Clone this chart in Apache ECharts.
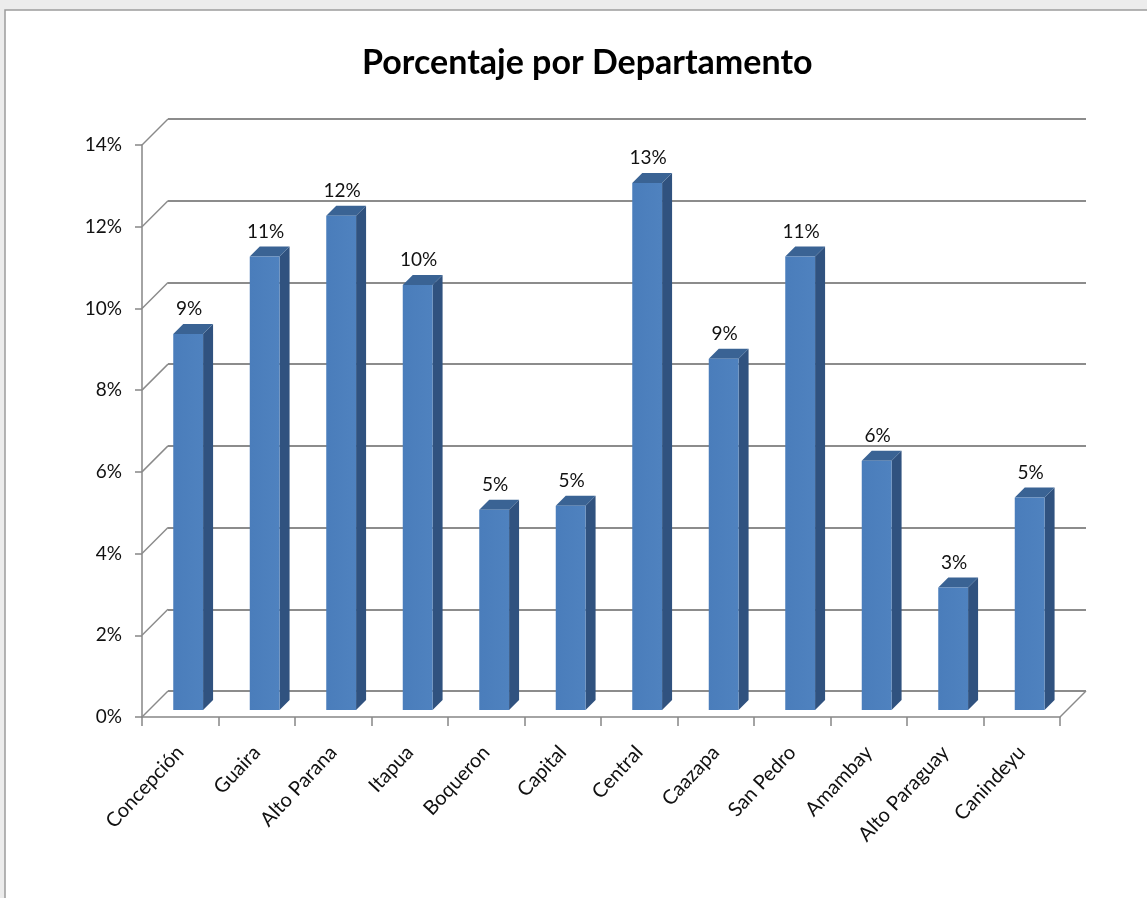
<!DOCTYPE html>
<html>
<head>
<meta charset="utf-8">
<script src="https://cdn.jsdelivr.net/npm/echarts@6/dist/echarts.min.js"></script>
<style>
  html, body { margin: 0; padding: 0; background: #ececec; }
  #myChart { width: 1147px; height: 898px; }
</style>
</head>
<body>
<div id="myChart"></div>
<script>
// datos
var categorias = ['Concepción', 'Guaira', 'Alto Parana', 'Itapua', 'Boqueron', 'Capital',
  'Central', 'Caazapa', 'San Pedro', 'Amambay', 'Alto Paraguay', 'Canindeyu']
var porcentajes = [9.2, 11.1, 12.1, 10.4, 4.9, 5.0, 12.9, 8.6, 11.1, 6.1, 3.0, 5.2]
var yTicks = [0, 2, 4, 6, 8, 10, 12, 14]

var fuente = 'Lato, "Open Sans", sans-serif'
var DX = 26   // profundidad de la pared
var DY = 26

// barra 3D: cara frontal, lateral y superior
var renderBarra = function(params, api) {
  var idx = api.value(0)
  var v = api.value(1)
  var top = api.coord([idx, v])
  var base = api.coord([idx, 0])
  var band = api.size([1, 0])[0]
  var w = band * 0.39
  var off = 7
  var d = 10
  var x0 = top[0] - off
  var x1 = x0 + w
  var yb = base[1] - off
  var yt = top[1] - off
  return {
    type: 'group',
    children: [
      {
        type: 'polygon',
        shape: { points: [[x1, yb], [x1 + d, yb - d], [x1 + d, yt - d], [x1, yt]] },
        style: { fill: '#30527f' }
      },
      {
        type: 'polygon',
        shape: { points: [[x0, yt], [x0 + d, yt - d], [x1 + d, yt - d], [x1, yt]] },
        style: { fill: '#3a6394' }
      },
      {
        type: 'rect',
        shape: { x: x0, y: yt, width: w, height: yb - yt },
        style: {
          fill: new echarts.graphic.LinearGradient(0, 0, 1, 0, [
            { offset: 0, color: '#4a7dbb' },
            { offset: 1, color: '#4f82bf' }
          ])
        }
      },
      {
        type: 'text',
        style: {
          text: Math.round(v) + '%',
          x: x0 + w / 2 + 1,
          y: yt - 25,
          align: 'center',
          verticalAlign: 'middle',
          fill: '#111',
          font: '19px ' + fuente
        }
      }
    ]
  }
}

// diagonales de la pared lateral y del piso
var renderMarco = function(params, api) {
  var cs = params.coordSys
  var y = api.coord([0, api.value(0)])[1]
  var children = [{
    type: 'line',
    shape: { x1: cs.x, y1: y, x2: cs.x + DX, y2: y - DY },
    style: { stroke: '#8a8a8a', lineWidth: 1.5 }
  }]
  if (params.dataIndex === 0) {
    var xr = cs.x + cs.width
    children.push({
      type: 'line',
      shape: { x1: xr, y1: y, x2: xr + DX, y2: y - DY },
      style: { stroke: '#8a8a8a', lineWidth: 1.5 }
    })
  }
  return { type: 'group', children: children }
}

var option = {
  animation: false,
  title: {
    text: 'Porcentaje por Departamento',
    left: 357,
    top: 41,
    textStyle: { fontFamily: fuente, fontSize: 34, fontWeight: 'bold', color: '#000' }
  },
  graphic: [{
    type: 'rect',
    z: -10,
    shape: { x: 5, y: 10, width: 1200, height: 950 },
    style: { fill: '#fff', stroke: '#9c9c9c', lineWidth: 1.5 }
  }],
  grid: [
    { left: 142, top: 145, width: 918, height: 572 },
    { left: 142 + DX, top: 145 - DY, width: 918, height: 572 }
  ],
  xAxis: [
    {
      type: 'category',
      gridIndex: 0,
      data: categorias,
      axisLine: { lineStyle: { color: '#868686', width: 1.5 } },
      axisTick: { show: true, length: 9, lineStyle: { color: '#868686', width: 1.5 } },
      axisLabel: { rotate: 47, margin: 32, interval: 0, fontFamily: fuente, fontSize: 20, color: '#111' }
    },
    {
      type: 'category',
      gridIndex: 1,
      data: categorias,
      show: false
    }
  ],
  yAxis: [
    {
      type: 'value',
      gridIndex: 0,
      min: 0,
      max: 14,
      interval: 2,
      axisLine: { show: true, lineStyle: { color: '#868686', width: 1.5 } },
      axisTick: { show: true, length: 7, lineStyle: { color: '#868686', width: 1.5 } },
      axisLabel: { formatter: '{value}%', margin: 20, fontFamily: fuente, fontSize: 19, color: '#111' },
      splitLine: { show: false }
    },
    {
      type: 'value',
      gridIndex: 1,
      min: 0,
      max: 14,
      interval: 2,
      axisLine: { show: false },
      axisTick: { show: false },
      axisLabel: { show: false },
      splitLine: { show: true, lineStyle: { color: '#8c8c8c', width: 2 } }
    }
  ],
  series: [
    {
      type: 'custom',
      xAxisIndex: 0,
      yAxisIndex: 0,
      renderItem: renderMarco,
      data: yTicks.map(function(t) { return [t] }),
      encode: { y: 0 },
      silent: true,
      z: 1
    },
    {
      type: 'custom',
      xAxisIndex: 0,
      yAxisIndex: 0,
      renderItem: renderBarra,
      data: porcentajes.map(function(v, i) { return [i, v] }),
      encode: { x: 0, y: 1 },
      z: 3
    }
  ]
}

var chart = echarts.init(document.getElementById('myChart'))
chart.setOption(option)
</script>
</body>
</html>
